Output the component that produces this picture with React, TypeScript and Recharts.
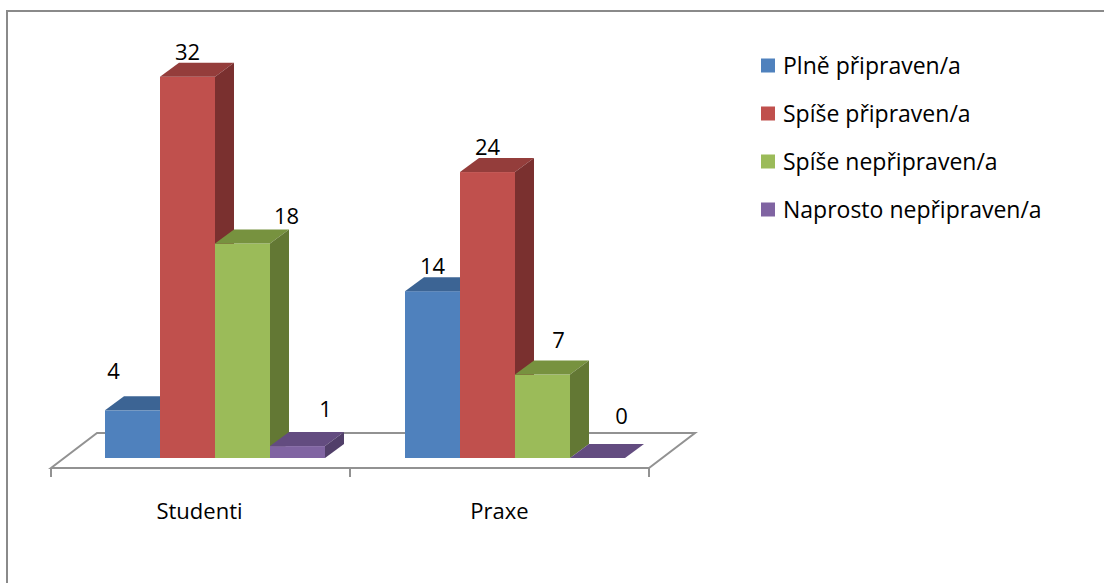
import React from 'react';
import { BarChart, Bar, XAxis, YAxis, LabelList, Customized } from 'recharts';

const categories = ['Studenti', 'Praxe'];
const seriesNames = ['Plně připraven/a', 'Spíše připraven/a', 'Spíše nepřipraven/a', 'Naprosto nepřipraven/a'];
const plnePripraven = [4, 14];
const spisePripraven = [32, 24];
const spiseNepripraven = [18, 7];
const naprostoNepripraven = [1, 0];

const seriesValues = [plnePripraven, spisePripraven, spiseNepripraven, naprostoNepripraven];

const data = categories.map((name, i) => {
  const row: Record<string, string | number> = { name };
  seriesValues.forEach((vals, s) => {
    row[`s${s}`] = vals[i];
  });
  return row;
});

// front / top / side shading for each series
const FACES = [
  { front: '#4F81BD', top: '#3C6494', side: '#385D8A' },
  { front: '#C0504D', top: '#943D3B', side: '#7A302F' },
  { front: '#9BBB59', top: '#77923F', side: '#637834' },
  { front: '#8064A2', top: '#634C80', side: '#513F69' },
];

// label nudges per series / category so values don't collide with the next bar
const LABEL_NUDGE = [
  [[-19, -14], [0, 0]],
  [[0, 0], [0, 0]],
  [[44, -3], [16, -10]],
  [[28, -12], [24, -17]],
];

const W = 1104;
const H = 583;
const FONT = "'Open Sans', sans-serif";
const DX = 19;
const DY = -14;
const MARGIN = { top: 41, right: 440, bottom: 65, left: 64 };
const BASE_Y = 458;
const GRID = '#929292';

const Bar3D = (props: any) => {
  const { x, y, width, height, faces } = props;
  if (x == null || y == null) return null;
  const r = x + width;
  const b = y + height;
  return (
    <g>
      {height > 0 && <rect x={x} y={y} width={width} height={height} fill={faces.front} />}
      <polygon
        points={`${x},${y} ${x + DX},${y + DY} ${r + DX},${y + DY} ${r},${y}`}
        fill={faces.top}
      />
      <polygon
        points={`${r},${y} ${r + DX},${y + DY} ${r + DX},${b + DY} ${r},${b}`}
        fill={faces.side}
      />
    </g>
  );
};

const makeLabel = (s: number) => (props: any) => {
  const { x, y, width, value, index } = props;
  const [nx, ny] = LABEL_NUDGE[s][index] || [0, 0];
  return (
    <text
      x={x + width / 2 + nx}
      y={y - 17 + ny}
      textAnchor="middle"
      fontFamily={FONT}
      fontSize={22}
      fill="#000"
    >
      {value}
    </text>
  );
};

// floor plane under the bars plus the category tick marks
const Floor = () => {
  const fl = MARGIN.left - 13;
  const fr = W - MARGIN.right - 15;
  const bl = MARGIN.left + 33;
  const br = W - MARGIN.right + 31;
  const fy = BASE_Y + 10;
  const by = BASE_Y - 25;
  const step = (fr - fl) / categories.length;
  const ticks = Array.from({ length: categories.length + 1 }, (_, i) => fl + i * step);
  return (
    <g>
      <rect x={7} y={11} width={W + 20} height={H + 20} fill="none" stroke="#8a8a8a" strokeWidth={2} />
      <polygon
        points={`${fl},${fy} ${bl},${by} ${br},${by} ${fr},${fy}`}
        fill="#fff"
        stroke={GRID}
        strokeWidth={2}
      />
      {ticks.map((t, i) => (
        <line key={i} x1={t} y1={fy} x2={t} y2={fy + 9} stroke={GRID} strokeWidth={2} />
      ))}
    </g>
  );
};

const LegendBlock = () => (
  <g>
    {seriesNames.map((n, i) => {
      const cy = 65.5 + i * 48;
      return (
        <g key={n}>
          <rect x={761} y={cy - 7} width={14} height={14} fill={FACES[i].front} />
          <text x={783} y={cy + 8} fontFamily={FONT} fontSize={23} fill="#000">
            {n}
          </text>
        </g>
      );
    })}
  </g>
);

const renderTick = (props: any) => {
  const { x, y, payload } = props;
  return (
    <text x={x - 14.5} y={y + 53} textAnchor="middle" fontFamily={FONT} fontSize={22} fill="#000">
      {payload.value}
    </text>
  );
};

export default function App() {
  return (
    <div style={{ position: 'absolute', left: 0, top: 0, background: '#fff' }}>
      <BarChart width={W} height={H} data={data} margin={MARGIN} barGap={0} barCategoryGap={41}>
        <Customized component={<Floor />} />
        <XAxis dataKey="name" height={60} axisLine={false} tickLine={false} tick={renderTick} interval={0} />
        <YAxis hide domain={[0, 35]} />
        {seriesNames.map((n, s) => (
          <Bar
            key={n}
            dataKey={`s${s}`}
            name={n}
            isAnimationActive={false}
            shape={(p: any) => <Bar3D {...p} faces={FACES[s]} />}
          >
            <LabelList dataKey={`s${s}`} content={makeLabel(s)} />
          </Bar>
        ))}
        <Customized component={<LegendBlock />} />
      </BarChart>
    </div>
  );
}
